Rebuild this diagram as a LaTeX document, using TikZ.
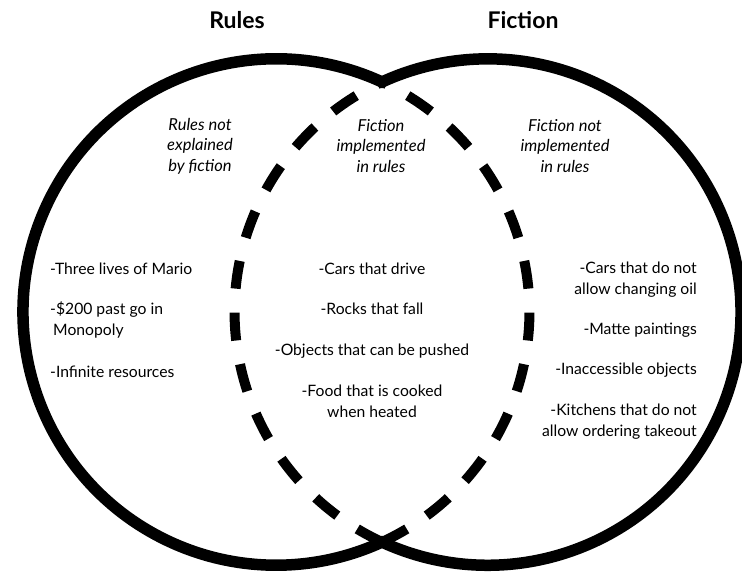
\documentclass[tikz,border=0pt]{standalone}
\usepackage{fontspec}
\setmainfont{Lato}
\begin{document}
\begin{tikzpicture}[
  x=1pt, y=1pt,
  rim/.style={draw, line width=11.5pt, line join=miter},
  inner rim/.style={draw, line width=10pt, dash pattern=on 28pt off 24pt},
  heading/.style={font=\fontsize{23}{27}\selectfont\bfseries, inner sep=0pt},
  region/.style={font=\fontsize{16.5}{20.5}\selectfont\itshape, align=center, inner sep=0pt},
  item/.style={font=\fontsize{15.7}{21}\selectfont, inner sep=0pt},
]
  \useasboundingbox (0,0) rectangle (742,573);
  \def\r{253.2}

  % the two circles: outer rims solid, inner rims dashed
  \coordinate (top) at (382,491);
  \coordinate (bot) at (382,31);
  \draw[rim] (top) arc[start angle=65.3, end angle=294.7, radius=\r]
                   arc[start angle=245.3, end angle=474.7, radius=\r] -- cycle;
  \draw[inner rim] (bot) arc[start angle=245.3, end angle=114.7, radius=\r];
  \draw[inner rim] (bot) arc[start angle=-65.3, end angle=65.3, radius=\r];

  % titles
  \node[heading] (rules) at (237,553) {Rules};
  \node[heading] (fiction) at (523,553) {Fiction};

  % what each region holds
  \node[region] (onlyrules) at (200,427) {Rules not\\explained\\by fiction};
  \node[region] (both) at (381,427) {Fiction\\implemented\\in rules};
  \node[region] (onlyfiction) at (565,427) {Fiction not\\implemented\\in rules};

  % left: rules only (base = last line)
  \node[item, anchor=base west] (mario) at (50,298) {-Three lives of Mario};
  \node[item, anchor=base west, align=left] (monopoly) at (50,237) {-\$200 past go in\\\hspace*{3pt}Monopoly};
  \node[item, anchor=base west] (infinite) at (50,195) {-Infinite resources};

  % middle: in both
  \node[item, anchor=base] (cars) at (372,298) {-Cars that drive};
  \node[item, anchor=base] (rocks) at (372,258) {-Rocks that fall};
  \node[item, anchor=base] (pushed) at (372,217) {-Objects that can be pushed};
  \node[item, anchor=base, align=center] (food) at (372,155) {-Food that is cooked\\when heated};

  % right: fiction only
  \node[item, anchor=base east, align=right] (oil) at (697,278) {-Cars that do not\\allow changing oil};
  \node[item, anchor=base east] (matte) at (697,238) {-Matte paintings};
  \node[item, anchor=base east] (inaccessible) at (697,198) {-Inaccessible objects};
  \node[item, anchor=base east, align=right] (kitchens) at (697,136) {-Kitchens that do not\\allow ordering takeout};
\end{tikzpicture}
\end{document}
